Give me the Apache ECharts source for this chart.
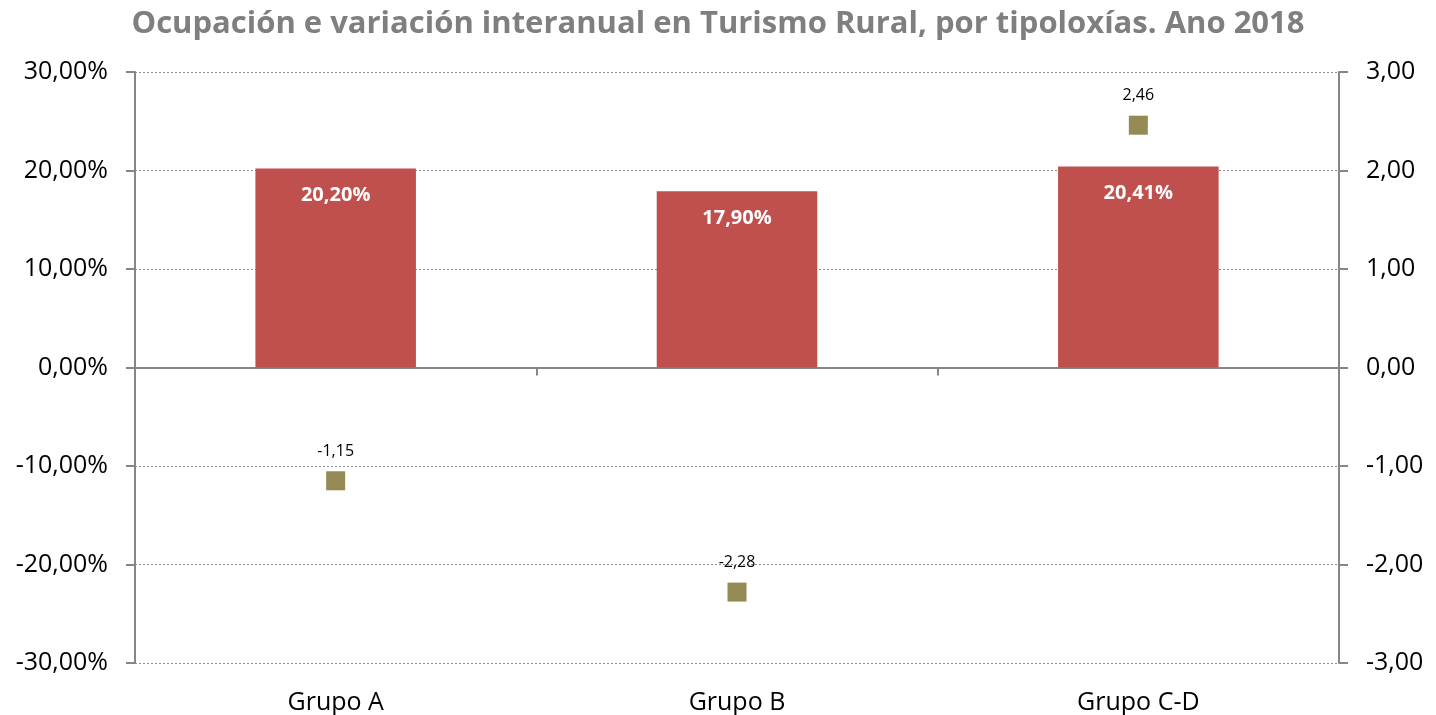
<!DOCTYPE html>
<html>
<head>
<meta charset="utf-8">
<script src="https://cdn.jsdelivr.net/npm/echarts@6/dist/echarts.min.js"></script>
<style>
    html, body { margin: 0; padding: 0; background: #fff; }
    #chart { width: 1436px; height: 715px; }
</style>
</head>
<body>
<div id="chart"></div>
<script>
    const categories = ['Grupo A', 'Grupo B', 'Grupo C-D'];
    const ocupacion = [20.20, 17.90, 20.41];
    const variacion = [-1.15, -2.28, 2.46];
    const leftTicks = { min: -30, max: 30, interval: 10 };
    const rightTicks = { min: -3, max: 3, interval: 1 };

    const font = '"Open Sans", sans-serif';
    const coma = (v, d) => v.toFixed(d).replace('.', ',');

    let myChart = echarts.init(document.getElementById('chart'));
    myChart.setOption({
        animation: false,
        title: {
            text: 'Ocupación e variación interanual en Turismo Rural, por tipoloxías. Ano 2018',
            left: 'center',
            top: 4,
            textStyle: { fontFamily: font, fontSize: 31, fontWeight: 'bold', color: '#7f7f7f' }
        },
        grid: { left: 135, right: 97, top: 72, bottom: 49 },
        xAxis: [
            {
                type: 'category',
                data: categories,
                position: 'bottom',
                axisLine: { show: false, onZero: false },
                axisTick: { show: false },
                axisLabel: { fontFamily: font, fontSize: 25, color: '#000', margin: 27 }
            },
            {
                type: 'category',
                data: categories,
                position: 'bottom',
                axisLine: { show: true, onZero: true, lineStyle: { color: '#868686', width: 2 } },
                axisTick: { show: true, length: 8, lineStyle: { color: '#868686', width: 2 } },
                axisLabel: { show: false }
            }
        ],
        yAxis: [
            {
                type: 'value',
                min: leftTicks.min, max: leftTicks.max, interval: leftTicks.interval,
                axisLine: { show: true, lineStyle: { color: '#868686', width: 2 } },
                axisTick: { show: true, length: 9, lineStyle: { color: '#868686', width: 2 } },
                axisLabel: { fontFamily: font, fontSize: 25, color: '#000', margin: 27, formatter: v => coma(v, 2) + '%' },
                splitLine: { show: true, lineStyle: { color: '#8c8c8c', type: [2, 2], width: 1 } }
            },
            {
                type: 'value',
                position: 'right',
                min: rightTicks.min, max: rightTicks.max, interval: rightTicks.interval,
                axisLine: { show: true, lineStyle: { color: '#868686', width: 2 } },
                axisTick: { show: true, length: 9, lineStyle: { color: '#868686', width: 2 } },
                axisLabel: { fontFamily: font, fontSize: 25, color: '#000', margin: 27, formatter: v => coma(v, 2) },
                splitLine: { show: false }
            }
        ],
        series: [
            {
                name: 'Ocupación',
                type: 'bar',
                xAxisIndex: 0,
                yAxisIndex: 0,
                barWidth: '40%',
                data: ocupacion,
                itemStyle: { color: '#c0504d' },
                label: {
                    show: true,
                    position: 'insideTop',
                    distance: 17,
                    fontFamily: font,
                    fontSize: 20,
                    fontWeight: 'bold',
                    color: '#fff',
                    formatter: p => coma(p.value, 2) + '%'
                }
            },
            {
                name: 'Variación interanual',
                type: 'scatter',
                xAxisIndex: 0,
                yAxisIndex: 1,
                symbol: 'rect',
                symbolSize: 19,
                data: variacion,
                itemStyle: { color: '#948a54', opacity: 1 },
                label: {
                    show: true,
                    position: 'top',
                    distance: 12,
                    fontFamily: font,
                    fontSize: 16,
                    color: '#000',
                    formatter: p => coma(p.value, 2)
                }
            }
        ]
    });
</script>
</body>
</html>
